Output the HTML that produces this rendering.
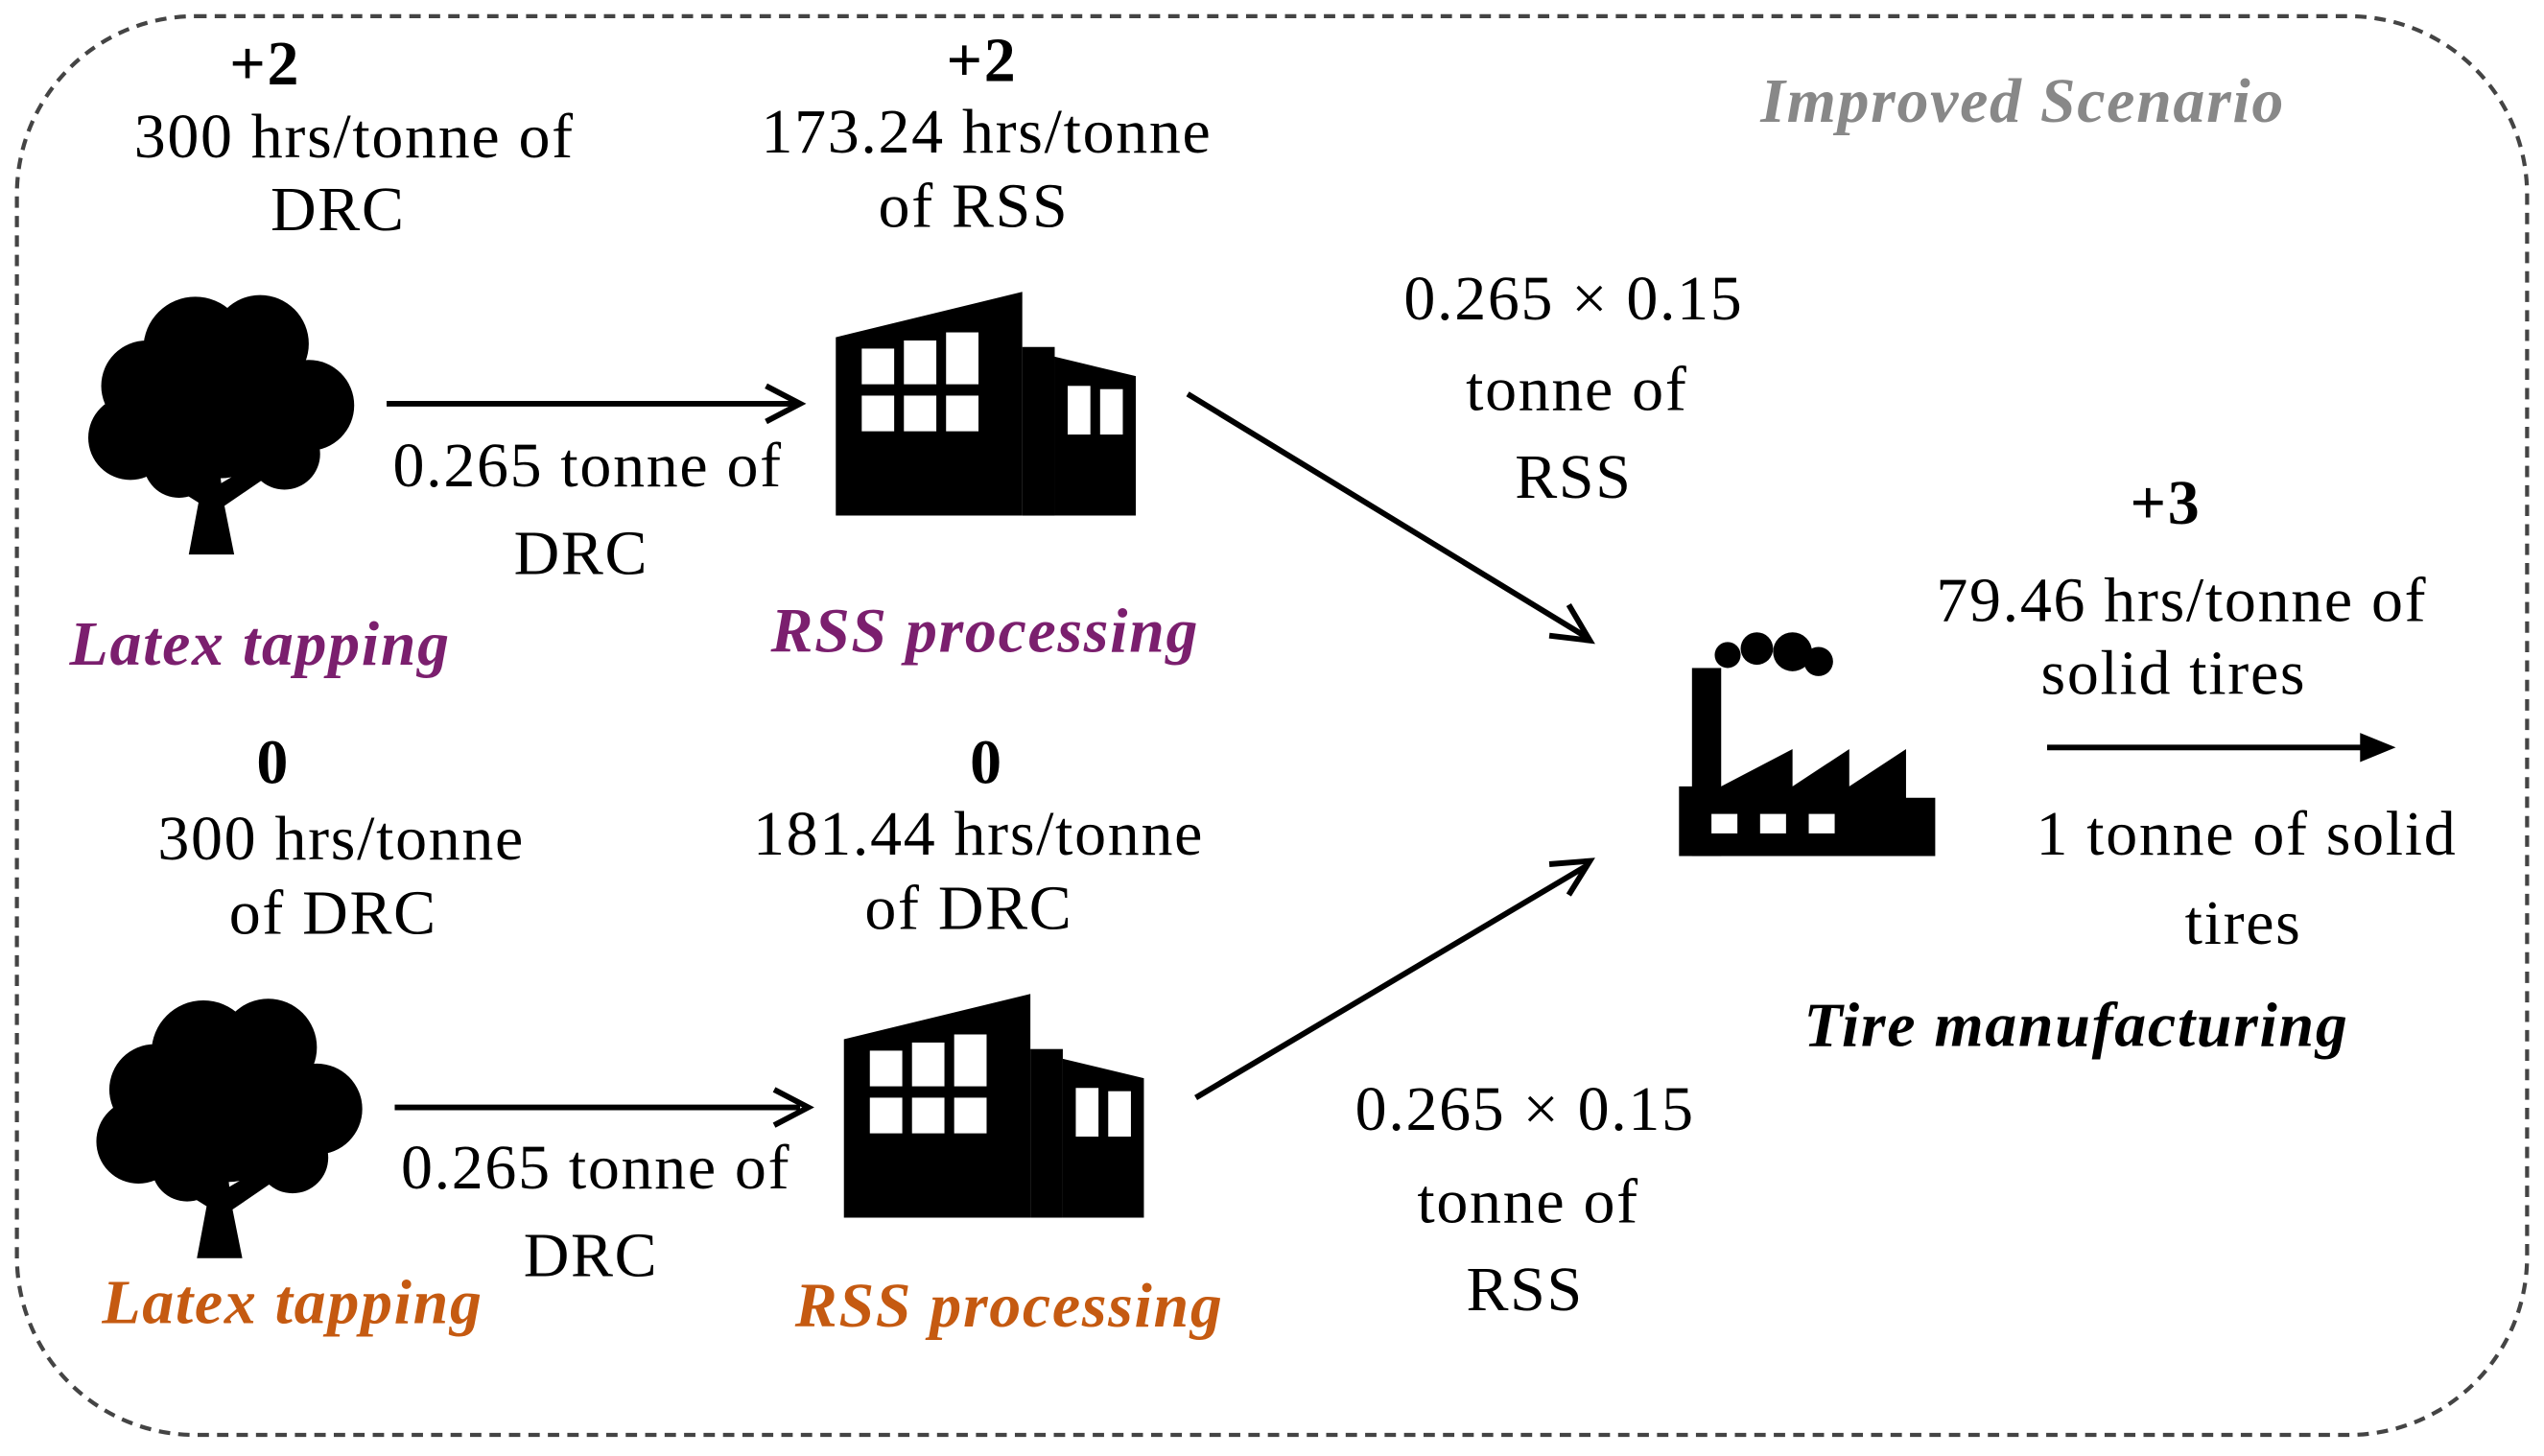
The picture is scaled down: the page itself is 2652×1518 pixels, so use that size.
<!DOCTYPE html>
<html><head><meta charset="utf-8"><style>
html,body{margin:0;padding:0;background:#fff}
svg{display:block}
text{font-family:"Liberation Serif",serif;font-size:39px;letter-spacing:1px;fill:#000;text-anchor:middle}
.b{font-weight:bold}
.it{font-style:italic;font-weight:bold}
</style></head><body>
<svg width="2652" height="1518" viewBox="0 0 1568 898" xmlns="http://www.w3.org/2000/svg">
<defs>
<g id="tree">
<circle cx="40" cy="58" r="28"/><circle cx="70" cy="35" r="32"/><circle cx="110" cy="32" r="30"/><circle cx="140" cy="70" r="28"/><circle cx="30" cy="90" r="26"/><circle cx="85" cy="75" r="40"/><circle cx="125" cy="100" r="22"/><circle cx="60" cy="105" r="22"/>
<path d="M66 162 L72 130 L40 110 L46 104 L74 120 L76 100 L84 100 L86 118 L120 98 L126 106 L88 132 L94 162 Z"/>
</g>
<g id="bld">
<path d="M0 28 L115 0 L115 138 L0 138 Z"/>
<path d="M135 40 L185 52 L185 138 L135 138 Z"/>
<rect x="115" y="34" width="20" height="104"/>
<g fill="#fff">
<rect x="16" y="35" width="20" height="22"/><rect x="42" y="30" width="20" height="27"/><rect x="68" y="25" width="20" height="32"/>
<rect x="16" y="64" width="20" height="22"/><rect x="42" y="64" width="20" height="22"/><rect x="68" y="64" width="20" height="22"/>
<rect x="143" y="58" width="14" height="30"/><rect x="163" y="60" width="14" height="28"/>
</g>
</g>
</defs>
<rect x="10" y="10" width="1548" height="875" rx="110" ry="110" fill="none" stroke="#444" stroke-width="2.5" stroke-dasharray="7,5"/>

<text x="1247" y="75" class="it" style="fill:#888">Improved Scenario</text>

<text x="163" y="52" class="b">+2</text>
<text x="218" y="97">300 hrs/tonne  of</text>
<text x="208" y="142">DRC</text>
<text x="605" y="50" class="b">+2</text>
<text x="608" y="94">173.24 hrs/tonne</text>
<text x="600" y="140">of RSS</text>

<use href="#tree" x="50" y="180"/>
<use href="#bld" x="515" y="180"/>
<use href="#tree" x="55" y="614"/>
<use href="#bld" x="520" y="613"/>

<g stroke="#000" stroke-width="3.5" fill="none">
<line x1="238" y1="249" x2="490" y2="249"/><path d="M472 238 L493 249 L472 260"/>
<line x1="243" y1="683" x2="493" y2="683"/><path d="M477 672 L498 683 L477 694"/>
<line x1="1262" y1="461" x2="1470" y2="461"/>
<line x1="732" y1="243" x2="978" y2="393"/><path d="M955 392 L980 395 L967 373"/>
<line x1="737" y1="677" x2="978" y2="534"/><path d="M967 552 L980 531 L955 533"/>
</g>
<path d="M1455 452 L1477 461 L1455 470 Z"/>

<text x="362" y="300">0.265 tonne of</text>
<text x="358" y="354">DRC</text>
<text x="160" y="410" class="it" style="fill:#7B1F6E">Latex tapping</text>
<text x="607" y="402" class="it" style="fill:#7B1F6E">RSS processing</text>

<text x="970" y="197">0.265 × 0.15</text>
<text x="972" y="253">tonne of</text>
<text x="970" y="307">RSS</text>

<g transform="translate(1035,390)">
<rect x="8" y="22" width="18" height="116"/>
<circle cx="30" cy="14" r="8"/><circle cx="48" cy="10" r="10"/><circle cx="70" cy="12" r="12"/><circle cx="86" cy="18" r="9"/>
<path d="M0 138 L0 95 L26 95 L70 72 L70 95 L105 72 L105 95 L140 72 L140 102 L158 102 L158 138 Z"/>
<g fill="#fff"><rect x="20" y="112" width="16" height="12"/><rect x="50" y="112" width="16" height="12"/><rect x="80" y="112" width="16" height="12"/></g>
</g>

<text x="1335" y="323" class="b">+3</text>
<text x="1345" y="383">79.46 hrs/tonne  of</text>
<text x="1340" y="428">solid tires</text>
<text x="1385" y="527">1 tonne of solid</text>
<text x="1383" y="582">tires</text>
<text x="1280" y="645" class="it">Tire manufacturing</text>

<text x="168" y="483" class="b">0</text>
<text x="210" y="530">300 hrs/tonne</text>
<text x="205" y="576">of DRC</text>
<text x="608" y="483" class="b">0</text>
<text x="603" y="527">181.44 hrs/tonne</text>
<text x="597" y="573">of DRC</text>

<text x="367" y="733">0.265 tonne of</text>
<text x="364" y="787">DRC</text>
<text x="180" y="816" class="it" style="fill:#C55A11">Latex tapping</text>
<text x="622" y="818" class="it" style="fill:#C55A11">RSS processing</text>

<text x="940" y="697">0.265 × 0.15</text>
<text x="942" y="754">tonne of</text>
<text x="940" y="808">RSS</text>
</svg>
</body></html>
